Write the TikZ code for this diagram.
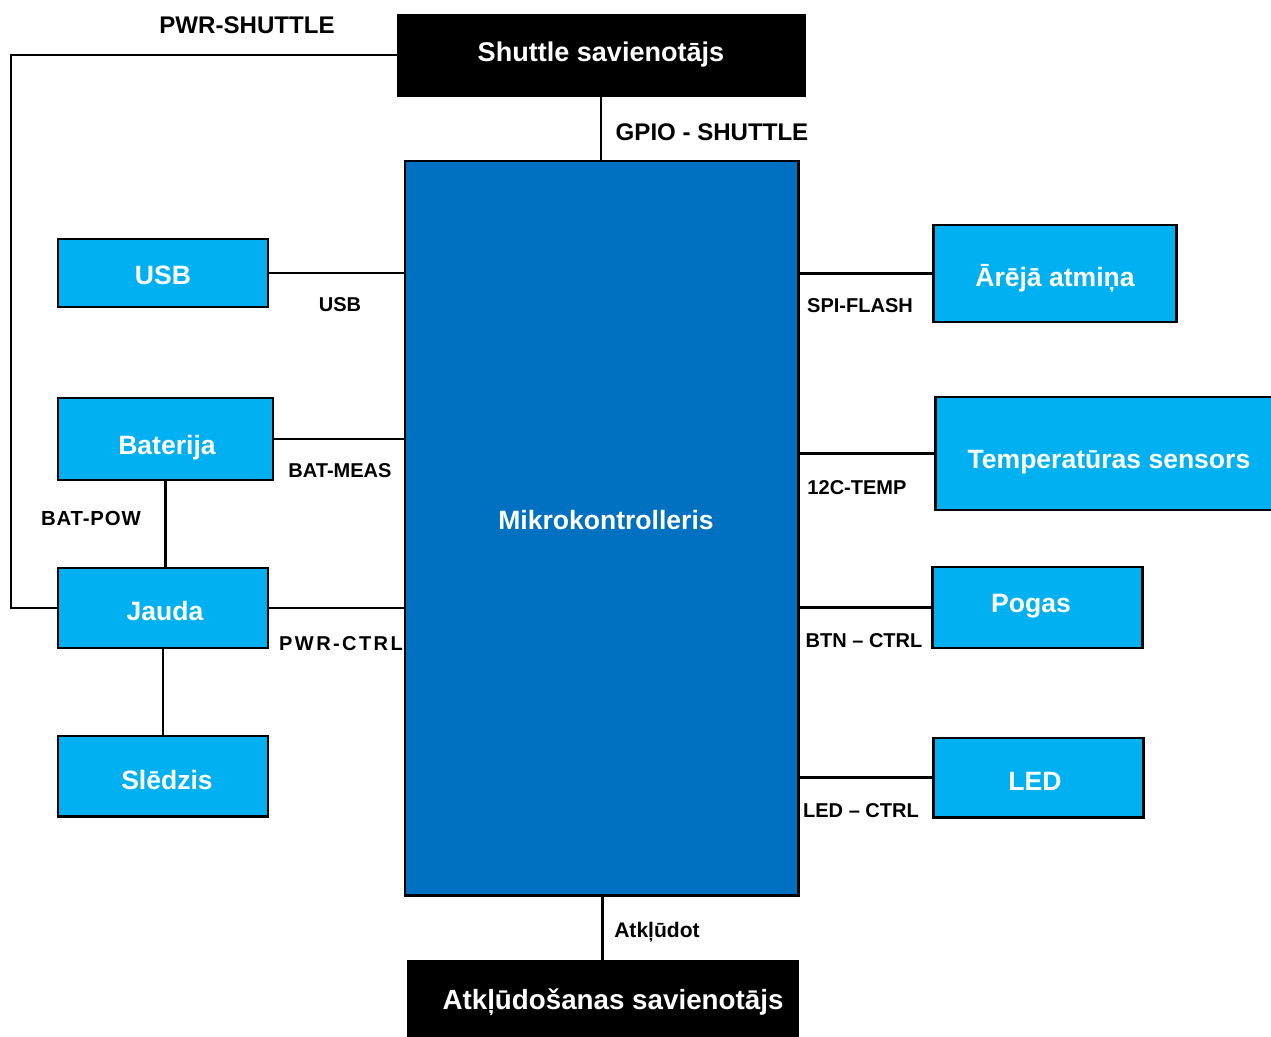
\documentclass[tikz,border=0pt]{standalone}
\usepackage{fontspec}
\setmainfont{Liberation Sans}
\definecolor{lblue}{HTML}{00B0F0}
\definecolor{mblue}{HTML}{0070C0}
\tikzset{
  blk/.style={draw=black, line width=1.7pt, fill=lblue, inner sep=0pt},
  conn/.style={draw=black, fill=black, inner sep=0pt},
  mcubox/.style={draw=black, line width=1.7pt, fill=mblue, inner sep=0pt},
  btxt/.style={text=white, inner sep=0pt, text height=0.72em, text depth=0pt,
    font=\fontsize{15.1}{18}\selectfont\bfseries},
  wire/.style={line width=1.5pt, black},
  lab/.style={inner sep=0pt, text height=0.72em, text depth=0pt,
    font=\fontsize{11.4}{13}\selectfont\bfseries},
  biglab/.style={inner sep=0pt, text height=0.72em, text depth=0pt,
    font=\fontsize{13.7}{16}\selectfont\bfseries},
}
\begin{document}
\begin{tikzpicture}[x=0.02cm,y=-0.02cm]
\clip (0,0) rectangle (1271,1037);
\fill[white] (0,0) rectangle (1271,1037);
% boxes
\node[conn, minimum width=408*0.02cm, minimum height=82*0.02cm] (shuttle) at (601,55) {};
\node[mcubox, minimum width=393*0.02cm, minimum height=734*0.02cm] (mcu) at (601.5,528) {};
\node[conn, minimum width=391*0.02cm, minimum height=80*0.02cm] (debug) at (602.5,1000) {};
\node[blk, minimum width=210*0.02cm, minimum height=68*0.02cm] (usb) at (163,273) {};
\node[blk, minimum width=215*0.02cm, minimum height=82*0.02cm] (bat) at (165.5,439) {};
\node[blk, minimum width=210*0.02cm, minimum height=80*0.02cm] (jauda) at (163,608) {};
\node[blk, minimum width=210*0.02cm, minimum height=80*0.02cm] (sledz) at (163,776) {};
\node[blk, minimum width=243*0.02cm, minimum height=97*0.02cm] (mem) at (1054.5,273.5) {};
\node[blk, minimum width=348*0.02cm, minimum height=113*0.02cm] (temp) at (1109,453.5) {};
\node[blk, minimum width=210*0.02cm, minimum height=81*0.02cm] (pogas) at (1037,607.5) {};
\node[blk, minimum width=210*0.02cm, minimum height=79*0.02cm] (led) at (1038,777.5) {};
% box texts
\node[btxt, font=\fontsize{15.4}{18}\selectfont\bfseries] (tshuttle) at (601,55) {Shuttle savienotājs};
\node[btxt] (tmcu) at (606,523) {Mikrokontrolleris};
\node[btxt, font=\fontsize{15.8}{19}\selectfont\bfseries] (tdebug) at (613,1003) {Atkļūdošanas savienotājs};
\node[btxt] (tusb) at (163,278) {USB};
\node[btxt] (tbat) at (167,448) {Baterija};
\node[btxt] (tjauda) at (165,614) {Jauda};
\node[btxt] (tsledz) at (167,783) {Slēdzis};
\node[btxt] (tmem) at (1055,280) {Ārējā atmiņa};
\node[btxt] (ttemp) at (1109,462) {Temperatūras sensors};
\node[btxt] (tpogas) at (1031,606) {Pogas};
\node[btxt] (tled) at (1035,784) {LED};
% connectors
\coordinate (corner) at (11,55);
\draw[wire] (shuttle.west) -- (corner) |- (jauda.west);
\draw[wire] (shuttle.south) -- (shuttle.south |- mcu.north);
\draw[wire] (mcu.south -| debug.north) -- (debug.north);
\draw[wire] (usb.east) -- (usb.east -| mcu.west);
\draw[wire] (bat.east) -- (bat.east -| mcu.west);
\draw[wire] (jauda.east) -- (jauda.east -| mcu.west);
\draw[wire] (bat.south) -- (bat.south |- jauda.north);
\draw[wire] (jauda.south) -- (sledz.north);
\draw[wire] (mem.west -| mcu.east) -- (mem.west);
\draw[wire] (temp.west -| mcu.east) -- (temp.west);
\draw[wire] (pogas.west -| mcu.east) -- (pogas.west);
\draw[wire] (led.west -| mcu.east) -- (led.west);
% labels
\node[biglab] (lpwrs) at (247,27) {PWR-SHUTTLE};
\node[biglab] (lgpio) at (712,134) {GPIO - SHUTTLE};
\node[lab] (lusb) at (340,305) {USB};
\node[lab] (lbatm) at (340,471) {BAT-MEAS};
\node[lab, font=\fontsize{11.6}{13}\selectfont\bfseries\addfontfeature{LetterSpace=4}] (lbatp) at (91,519) {BAT-POW};
\node[lab, font=\fontsize{11.4}{13}\selectfont\bfseries\addfontfeature{LetterSpace=12}] (lpwrc) at (341,644) {PWR-CTRL};
\node[lab] (lspi) at (860,306) {SPI-FLASH};
\node[lab] (ltemp) at (857,488) {12C-TEMP};
\node[lab] (lbtn) at (864,641) {BTN – CTRL};
\node[lab] (lled) at (861,811) {LED – CTRL};
\node[lab, font=\fontsize{12}{14}\selectfont\bfseries] (ldbg) at (657,931) {Atkļūdot};
\end{tikzpicture}
\end{document}
